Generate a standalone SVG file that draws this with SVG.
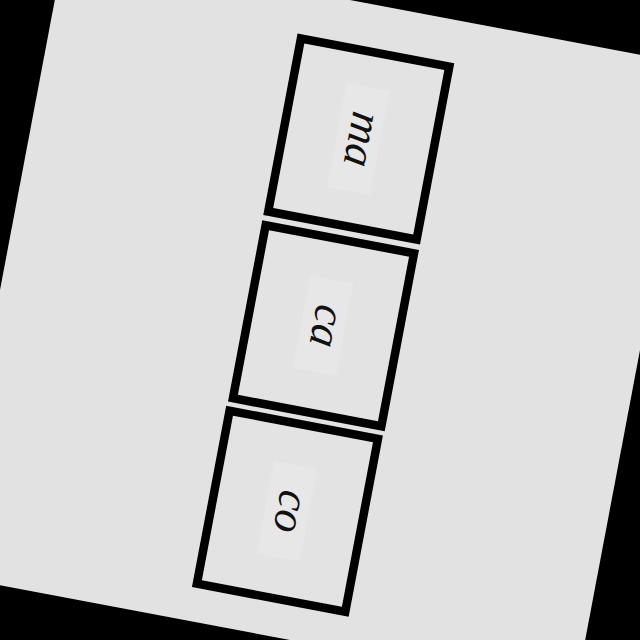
<svg xmlns="http://www.w3.org/2000/svg" width="640" height="640" viewBox="0 0 640 640">
<style>
.box{fill:#e3e3e3;stroke:#000;stroke-width:8.5}
.lbl{font-family:"Liberation Serif","Times New Roman",serif;font-style:italic;font-size:45px;fill:#111;text-anchor:middle}
.tb{fill:#e7e7e7}
</style>
<rect x="0" y="0" width="640" height="640" fill="#000"/>
<g transform="rotate(10.7 320 320)">
<rect x="0" y="0" width="640" height="640" fill="#e2e2e2"/>
<g id="node-ma">
<rect class="box" x="249" y="47" width="151" height="176"/>
<rect class="tb" x="302" y="82" width="44" height="106"/>
<text class="lbl" x="324" y="135" dy="10" transform="rotate(90 324 135)">ma</text>
</g>
<g id="node-ca">
<rect class="box" x="249" y="237" width="151" height="176"/>
<rect class="tb" x="302" y="278" width="44" height="94"/>
<text class="lbl" x="324" y="325" dy="10" transform="rotate(90 324 325)">ca</text>
</g>
<g id="node-co">
<rect class="box" x="248" y="426" width="151" height="176"/>
<rect class="tb" x="301" y="467" width="44" height="94"/>
<text class="lbl" x="323" y="514" dy="10" transform="rotate(90 323 514)">co</text>
</g>
<g id="connectors"></g>
</g>
</svg>
